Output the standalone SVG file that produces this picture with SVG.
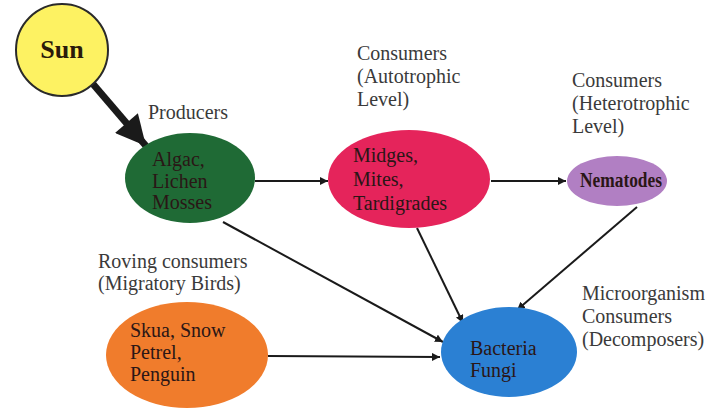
<svg xmlns="http://www.w3.org/2000/svg" width="713" height="410" viewBox="0 0 713 410">
<defs>
<style>
.lbl{font-family:"Liberation Serif","Times New Roman",serif;font-size:20px;fill:#3a3a3a}
.nt{font-family:"Liberation Serif","Times New Roman",serif;font-size:20px;fill:#2a1616}
.ln{stroke:#1a1a1a;stroke-width:2;fill:none}
</style>
<marker id="ah" viewBox="0 0 10 10" refX="10" refY="5" markerWidth="8" markerHeight="8" markerUnits="userSpaceOnUse" orient="auto">
<path d="M0,0 L10,5 L0,10 z" fill="#1a1a1a"/>
</marker>
<marker id="ahb" viewBox="0 0 10 10" refX="10" refY="5" markerWidth="4.6" markerHeight="4.3" orient="auto">
<path d="M0,0 L10,5 L0,10 z" fill="#1a1a1a"/>
</marker>
</defs>
<rect width="713" height="410" fill="#ffffff"/>
<g id="connectors">
<line x1="93" y1="84" x2="146" y2="146" stroke="#1a1a1a" stroke-width="7" marker-end="url(#ahb)"/>
<line class="ln" x1="255" y1="181" x2="328" y2="181" marker-end="url(#ah)"/>
<line class="ln" x1="491" y1="181" x2="566" y2="181" marker-end="url(#ah)"/>
<line class="ln" x1="223" y1="222" x2="443" y2="342" marker-end="url(#ah)"/>
<line class="ln" x1="417" y1="228" x2="463" y2="323" marker-end="url(#ah)"/>
<line class="ln" x1="637" y1="207" x2="517" y2="310" marker-end="url(#ah)"/>
<line class="ln" x1="268" y1="356" x2="440" y2="357" marker-end="url(#ah)"/>
</g>
<g id="sun">
<circle cx="62" cy="50" r="46" fill="#fdf262" stroke="#2a2a2a" stroke-width="2"/>
<text x="62" y="58" text-anchor="middle" font-family="Liberation Serif, Times New Roman, serif" font-size="26" font-weight="bold" fill="#2a1a0a">Sun</text>
</g>
<g id="producers">
<text class="lbl" x="148" y="119">Producers</text>
<ellipse cx="190" cy="178" rx="65" ry="45" fill="#1f6a35"/>
<text class="nt" x="152" y="166" font-size="17">Algac,</text>
<text class="nt" x="152" y="188" font-size="17">Lichen</text>
<text class="nt" x="152" y="209" font-size="17">Mosses</text>
</g>
<g id="autotrophic">
<text class="lbl" x="357" y="60">Consumers</text>
<text class="lbl" x="357" y="83">(Autotrophic</text>
<text class="lbl" x="357" y="106">Level)</text>
<ellipse cx="409" cy="179" rx="81" ry="49" fill="#e5245b"/>
<text class="nt" x="353" y="162">Midges,</text>
<text class="nt" x="353" y="186">Mites,</text>
<text class="nt" x="353" y="210">Tardigrades</text>
</g>
<g id="heterotrophic">
<text class="lbl" x="572" y="87">Consumers</text>
<text class="lbl" x="572" y="110">(Heterotrophic</text>
<text class="lbl" x="572" y="133">Level)</text>
<ellipse cx="617" cy="181" rx="50" ry="25" fill="#b17fc3"/>
<text class="nt" x="580" y="187" font-size="17" font-weight="bold" textLength="82" lengthAdjust="spacingAndGlyphs">Nematodes</text>
</g>
<g id="roving">
<text class="lbl" x="98" y="268">Roving consumers</text>
<text class="lbl" x="98" y="290">(Migratory Birds)</text>
<ellipse cx="187" cy="355" rx="81" ry="53" fill="#f07c2c"/>
<text class="nt" x="130" y="337">Skua, Snow</text>
<text class="nt" x="130" y="359">Petrel,</text>
<text class="nt" x="130" y="381">Penguin</text>
</g>
<g id="decomposers">
<text class="lbl" x="582" y="300">Microorganism</text>
<text class="lbl" x="582" y="323">Consumers</text>
<text class="lbl" x="582" y="346">(Decomposers)</text>
<ellipse cx="509" cy="352" rx="68" ry="45" fill="#2b80d3"/>
<text class="nt" x="470" y="355">Bacteria</text>
<text class="nt" x="470" y="377">Fungi</text>
</g>
</svg>
